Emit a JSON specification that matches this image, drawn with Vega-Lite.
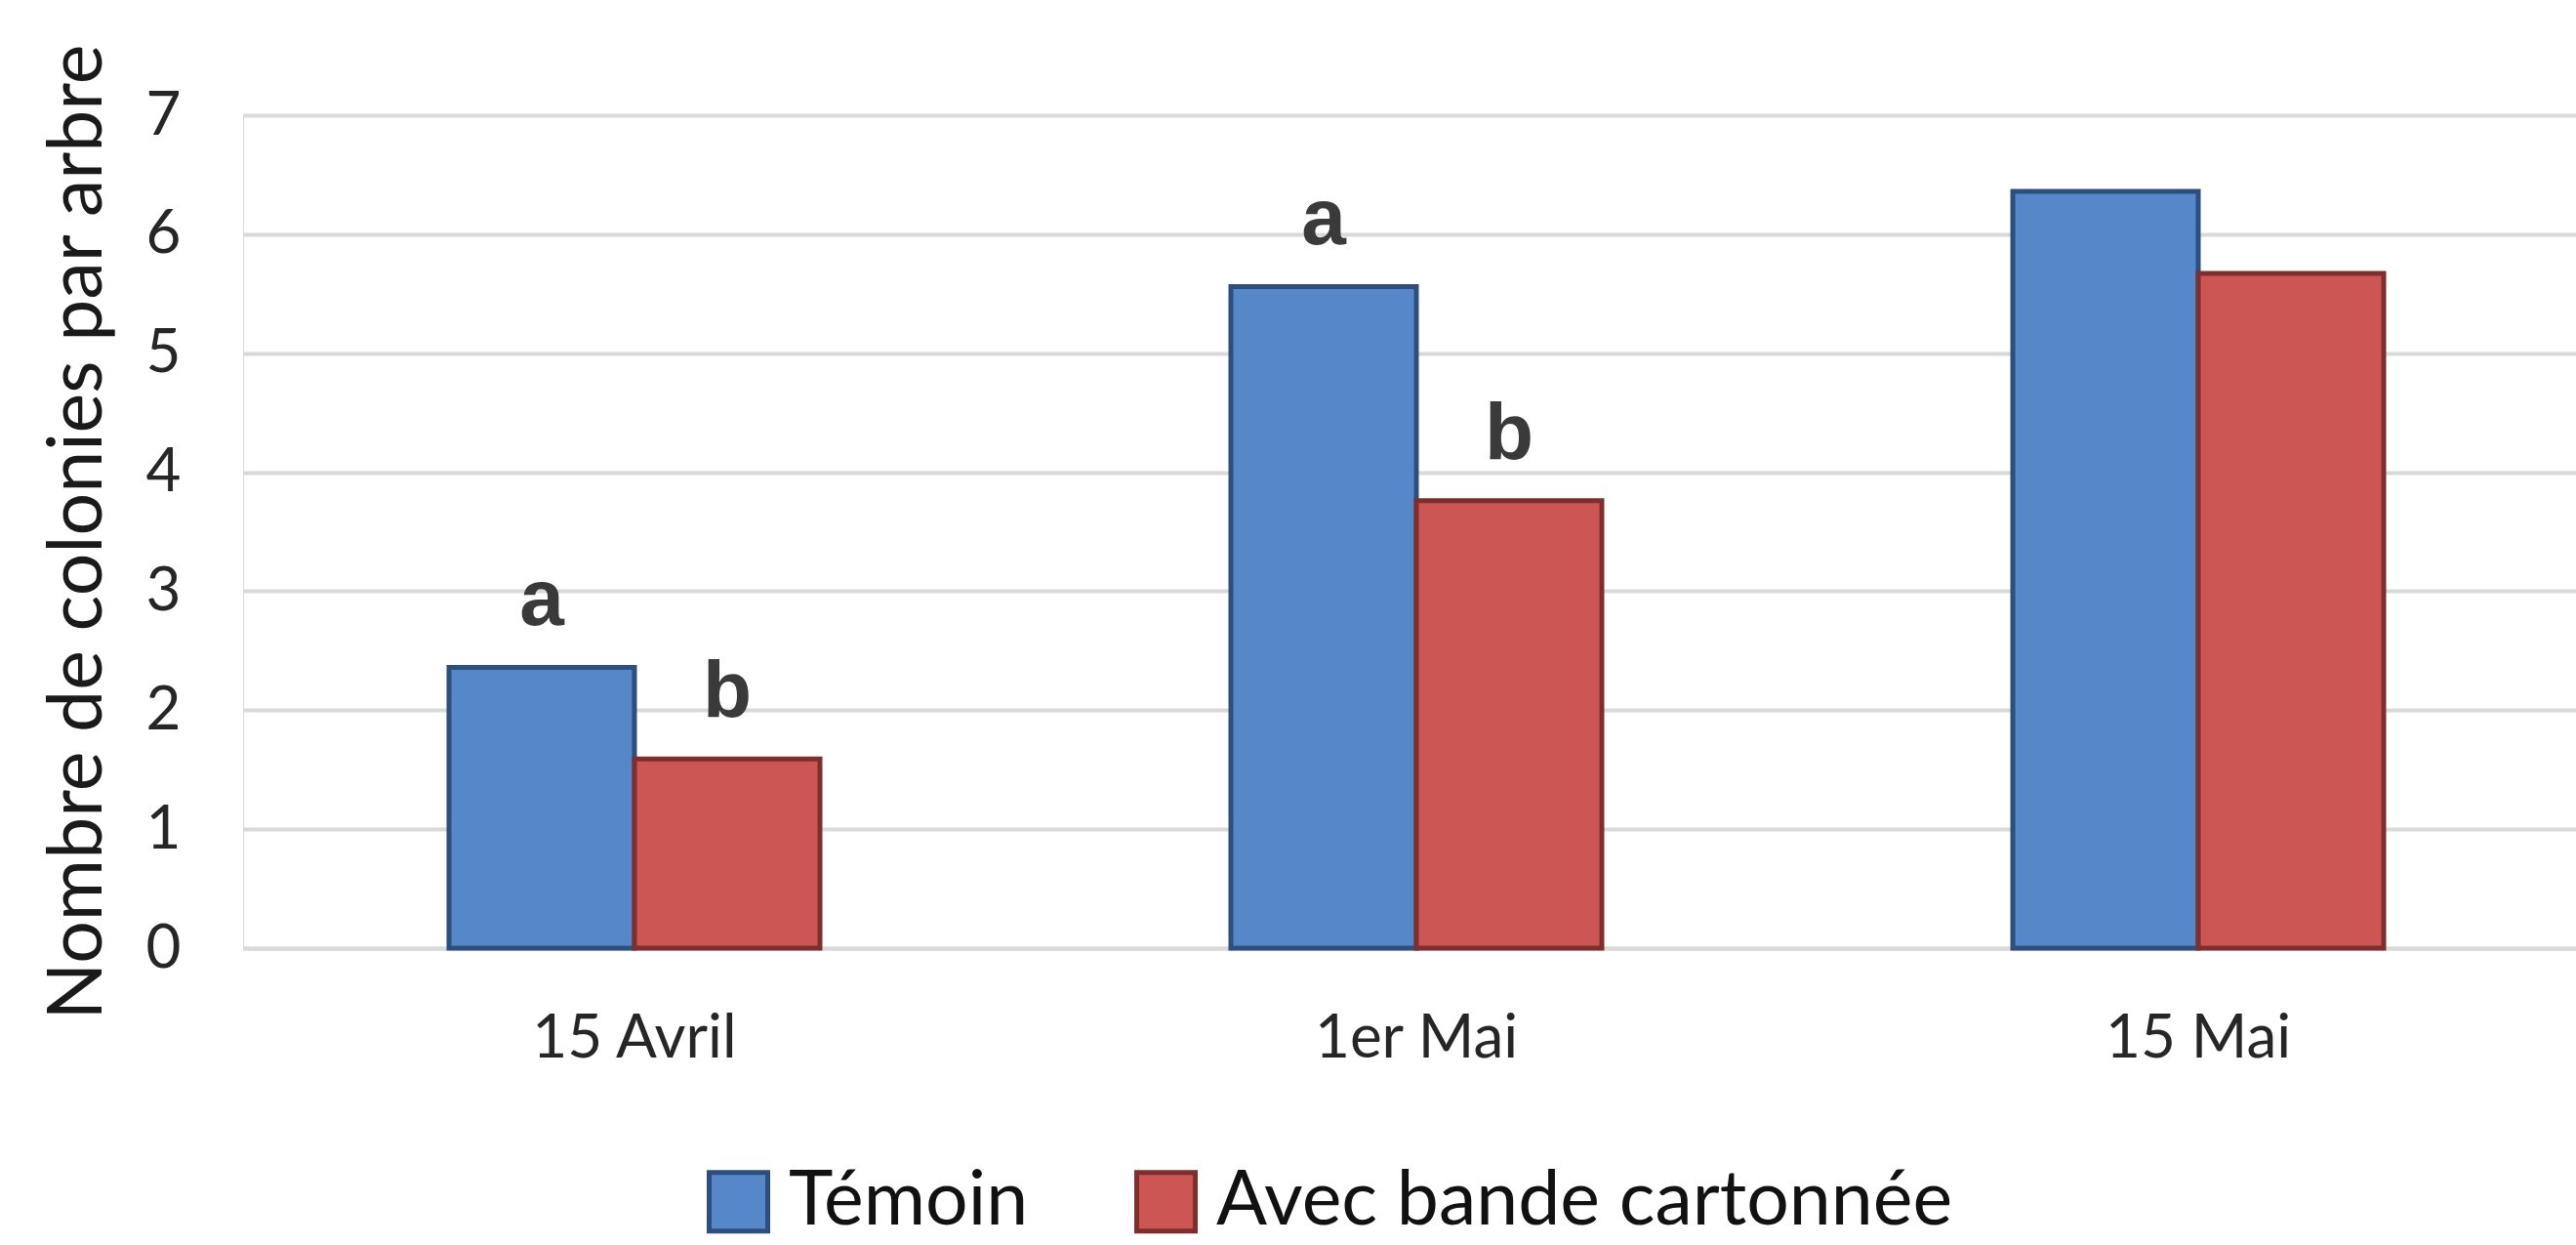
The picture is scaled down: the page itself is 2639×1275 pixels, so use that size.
{
  "$schema": "https://vega.github.io/schema/vega-lite/v6.json",
  "width": 2404,
  "height": 853,
  "autosize": {"type": "none"},
  "padding": {"left": 249, "top": 118, "right": -14, "bottom": 304},
  "background": "#ffffff",
  "data": {
    "values": [
      {"date": "15 Avril", "serie": "Témoin", "valeur": 2.36, "lettre": "a"},
      {"date": "15 Avril", "serie": "Avec bande cartonnée", "valeur": 1.59, "lettre": "b"},
      {"date": "1er Mai", "serie": "Témoin", "valeur": 5.56, "lettre": "a"},
      {"date": "1er Mai", "serie": "Avec bande cartonnée", "valeur": 3.76, "lettre": "b"},
      {"date": "15 Mai", "serie": "Témoin", "valeur": 6.36, "lettre": ""},
      {"date": "15 Mai", "serie": "Avec bande cartonnée", "valeur": 5.67, "lettre": ""}
    ]
  },
  "encoding": {
    "x": {
      "field": "date",
      "type": "nominal",
      "sort": null,
      "scale": {"paddingInner": 0.5256, "paddingOuter": 0.2634},
      "axis": {
        "title": null,
        "labelAngle": 0,
        "labelFont": "Lato",
        "labelFontSize": 62,
        "labelColor": "#262626",
        "labelPadding": 62,
        "labelLimit": 1000,
        "ticks": false,
        "domain": true,
        "domainColor": "#D9D9D9",
        "domainWidth": 4,
        "grid": false
      }
    },
    "xOffset": {
      "field": "serie",
      "type": "nominal",
      "sort": ["Témoin", "Avec bande cartonnée"],
      "scale": {"paddingInner": 0, "paddingOuter": 0}
    },
    "y": {
      "field": "valeur",
      "type": "quantitative",
      "scale": {"domain": [0, 7], "nice": false, "zero": true},
      "axis": {
        "title": "Nombre  de colonies par arbre",
        "titleFont": "Lato",
        "titleFontSize": 77,
        "titleFontWeight": "normal",
        "titleColor": "#1a1a1a",
        "titleBaseline": "alphabetic",
        "titlePadding": 46,
        "titleLimit": 2000,
        "values": [0, 1, 2, 3, 4, 5, 6, 7],
        "labelFont": "Lato",
        "labelFontSize": 62,
        "labelColor": "#262626",
        "labelPadding": 64,
        "ticks": false,
        "domain": false,
        "grid": true,
        "gridColor": "#D9D9D9",
        "gridWidth": 4
      }
    }
  },
  "layer": [
    {
      "mark": {"type": "bar", "strokeWidth": 5},
      "encoding": {
        "color": {
          "field": "serie",
          "type": "nominal",
          "scale": {"domain": ["Témoin", "Avec bande cartonnée"], "range": ["#5687C8", "#CB5654"]},
          "legend": {
            "title": null,
            "orient": "none",
            "legendX": 469,
            "legendY": 1074,
            "direction": "horizontal",
            "padding": 0,
            "symbolType": "square",
            "symbolSize": 3600,
            "symbolStrokeWidth": 5,
            "labelFont": "Lato",
            "labelFontSize": 77,
            "labelColor": "#111111",
            "labelOffset": 13,
            "columnPadding": 100,
            "labelLimit": 2000
          }
        },
        "stroke": {
          "field": "serie",
          "type": "nominal",
          "scale": {"domain": ["Témoin", "Avec bande cartonnée"], "range": ["#2E4F7E", "#7C2F2D"]},
          "legend": {
            "title": null,
            "orient": "none",
            "legendX": 469,
            "legendY": 1074,
            "direction": "horizontal",
            "padding": 0,
            "symbolType": "square",
            "symbolSize": 3600,
            "symbolStrokeWidth": 5,
            "labelFont": "Lato",
            "labelFontSize": 77,
            "labelColor": "#111111",
            "labelOffset": 13,
            "columnPadding": 100,
            "labelLimit": 2000
          }
        }
      }
    },
    {
      "mark": {
        "type": "text",
        "font": "Liberation Sans",
        "fontWeight": "bold",
        "fontSize": 82,
        "color": "#3A3A3A",
        "baseline": "alphabetic",
        "align": "center",
        "dy": -43
      },
      "encoding": {
        "text": {"field": "lettre", "type": "nominal"}
      }
    }
  ]
}
